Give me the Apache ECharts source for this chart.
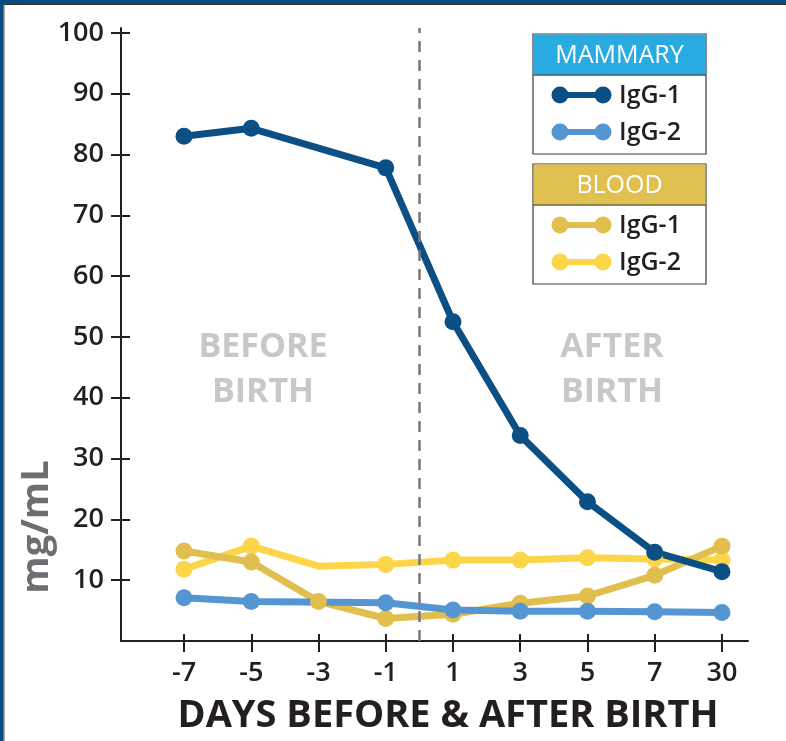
<!DOCTYPE html>
<html>
<head>
<meta charset="utf-8">
<script src="https://cdn.jsdelivr.net/npm/echarts@6/dist/echarts.min.js"></script>
<style>
  html, body { margin: 0; padding: 0; background: #fff; }
  #chart { width: 786px; height: 741px; }
</style>
</head>
<body>
<div id="chart"></div>
<script>
// x categories (days) and y tick labels
const days = ['-7', '-5', '-3', '-1', '1', '3', '5', '7', '30'];
const yTicks = [10, 20, 30, 40, 50, 60, 70, 80, 90, 100];

// values (mg/mL), null = no point drawn
const mammaryIgG1 = [83.0, 84.3, null, 77.8, 52.5, 33.8, 22.9, 14.6, 11.4];
const mammaryIgG2 = [7.1, 6.5, null, 6.3, 5.1, 4.9, 4.9, 4.8, 4.7];
const bloodIgG1 = [14.8, 13.0, 6.5, 3.7, 4.4, 6.2, 7.4, 10.8, 15.6];
const bloodIgG2 = [11.8, 15.6, 12.3, 12.6, 13.3, 13.3, 13.7, 13.5, 13.3];
// points of blood IgG-2 drawn as a bend without a dot
const bloodIgG2NoDot = [2];

const colors = {
  mammary1: '#0b4f85',
  mammary2: '#5496d1',
  blood1: '#e0bf4f',
  blood2: '#fdd549'
};

const font = '"Open Sans", sans-serif';
const dayIdx = days.map((d, i) => i);

function toPoints(arr, noDot) {
  const out = [];
  arr.forEach((v, i) => {
    if (v === null) return;
    if (noDot && noDot.indexOf(i) >= 0) {
      out.push({ value: [i, v], symbol: 'none' });
    } else {
      out.push([i, v]);
    }
  });
  return out;
}

function lineSeries(name, data, color, extra) {
  return Object.assign({
    name: name,
    type: 'line',
    data: data,
    symbol: 'circle',
    symbolSize: 17,
    showSymbol: true,
    lineStyle: { color: color, width: 7 },
    itemStyle: { color: color },
    emphasis: { disabled: true }
  }, extra || {});
}

// legend box
function legendBox(title, top, headColor, items) {
  const left = 533, w = 173, headH = 41, bodyH = 79;
  const els = [
    { type: 'rect', shape: { x: left, y: top, width: w, height: headH + bodyH },
      style: { fill: '#fff', stroke: '#3a3a3c', lineWidth: 1.2 } },
    { type: 'rect', shape: { x: left + 0.6, y: top + 0.6, width: w - 1.2, height: headH },
      style: { fill: headColor } },
    { type: 'line', shape: { x1: left, y1: top + headH, x2: left + w, y2: top + headH },
      style: { stroke: '#3a3a3c', lineWidth: 1 } },
    { type: 'text', x: left + w / 2, y: top + headH / 2 + 1,
      style: { text: title, fill: '#fff', font: '500 25px ' + font,
        align: 'center', verticalAlign: 'middle' } }
  ];
  items.forEach((it, k) => {
    const cy = top + headH + 20 + k * 37;
    els.push(
      { type: 'line', shape: { x1: 560, y1: cy, x2: 603, y2: cy },
        style: { stroke: it.color, lineWidth: 6 } },
      { type: 'circle', shape: { cx: 560, cy: cy, r: 8.5 }, style: { fill: it.color } },
      { type: 'circle', shape: { cx: 603, cy: cy, r: 8.5 }, style: { fill: it.color } },
      { type: 'text', x: 619, y: cy + 1,
        style: { text: it.label, fill: '#231f20', font: '600 25px ' + font,
          verticalAlign: 'middle' } }
    );
  });
  return els;
}

const chart = echarts.init(document.getElementById('chart'));

const axisLabelStyle = { color: '#231f20', fontFamily: font, fontWeight: 600, fontSize: 27 };
const axisDark = { color: '#231f20', width: 2 };

const option = {
  animation: false,
  backgroundColor: '#fff',
  grid: { left: 121, right: 38, top: 28, bottom: 100 },
  xAxis: [
    {
      type: 'value',
      position: 'bottom',
      min: -0.937,
      max: 8.387,
      splitLine: { show: false },
      axisLine: { show: true, onZero: false, lineStyle: axisDark },
      axisTick: { show: true, customValues: dayIdx, length: 11, lineStyle: axisDark },
      axisLabel: { customValues: dayIdx, margin: 19, formatter: v => days[v], ...axisLabelStyle }
    },
    {
      type: 'value',
      position: 'bottom',
      offset: 0,
      min: -0.937,
      max: 8.387,
      splitLine: { show: false },
      axisLine: { show: false, onZero: false },
      axisTick: { show: true, inside: true, customValues: dayIdx, length: 7, lineStyle: axisDark },
      axisLabel: { show: false }
    }
  ],
  yAxis: [
    {
      type: 'value',
      position: 'left',
      min: 0,
      max: 100.8,
      splitLine: { show: false },
      axisLine: { show: true, onZero: false, lineStyle: axisDark },
      axisTick: { show: true, customValues: yTicks, length: 10, lineStyle: axisDark },
      axisLabel: { customValues: yTicks, margin: 17, ...axisLabelStyle }
    },
    {
      type: 'value',
      position: 'left',
      offset: 0,
      min: 0,
      max: 100.8,
      splitLine: { show: false },
      axisLine: { show: false, onZero: false },
      axisTick: { show: true, inside: true, customValues: yTicks, length: 9, lineStyle: axisDark },
      axisLabel: { show: false }
    }
  ],
  series: [
    lineSeries('Blood IgG-2', toPoints(bloodIgG2, bloodIgG2NoDot), colors.blood2, {
      markLine: {
        silent: true,
        symbol: 'none',
        label: { show: false },
        lineStyle: { color: '#77787b', width: 2.5, type: [11, 8] },
        data: [{ xAxis: 3.5 }]
      }
    }),
    lineSeries('Blood IgG-1', toPoints(bloodIgG1), colors.blood1),
    lineSeries('Mammary IgG-2', toPoints(mammaryIgG2), colors.mammary2),
    lineSeries('Mammary IgG-1', toPoints(mammaryIgG1), colors.mammary1)
  ],
  graphic: [
    // frame
    { type: 'rect', shape: { x: 0, y: 0, width: 786, height: 4 }, style: { fill: '#0b4a80' } },
    { type: 'rect', shape: { x: 0, y: 4, width: 786, height: 1 }, style: { fill: '#333' } },
    { type: 'rect', shape: { x: 0, y: 0, width: 3.5, height: 741 }, style: { fill: '#0b4a80' } },
    { type: 'rect', shape: { x: 3.5, y: 4, width: 1, height: 737 }, style: { fill: '#555' } },
    // region captions
    { type: 'text', x: 263, y: 347, z: -1,
      style: { text: 'BEFORE', fill: '#c7c8ca', font: '700 34px ' + font, align: 'center', verticalAlign: 'middle' } },
    { type: 'text', x: 263, y: 392, z: -1,
      style: { text: 'BIRTH', fill: '#c7c8ca', font: '700 34px ' + font, align: 'center', verticalAlign: 'middle' } },
    { type: 'text', x: 612, y: 347, z: -1,
      style: { text: 'AFTER', fill: '#c7c8ca', font: '700 34px ' + font, align: 'center', verticalAlign: 'middle' } },
    { type: 'text', x: 612, y: 392, z: -1,
      style: { text: 'BIRTH', fill: '#c7c8ca', font: '700 34px ' + font, align: 'center', verticalAlign: 'middle' } },
    // axis titles
    { type: 'text', x: 448, y: 716,
      style: { text: 'DAYS BEFORE & AFTER BIRTH', fill: '#231f20', font: '700 38px ' + font,
        align: 'center', verticalAlign: 'middle' } },
    { type: 'text', x: 37, y: 527, rotation: Math.PI / 2,
      style: { text: 'mg/mL', fill: '#6d6e71', font: '700 38px ' + font,
        align: 'center', verticalAlign: 'middle' } },
    // legends
    ...legendBox('MAMMARY', 34, '#29abe2', [
      { label: 'IgG-1', color: colors.mammary1 },
      { label: 'IgG-2', color: colors.mammary2 }
    ]),
    ...legendBox('BLOOD', 164, '#e0c050', [
      { label: 'IgG-1', color: colors.blood1 },
      { label: 'IgG-2', color: colors.blood2 }
    ])
  ]
};

chart.setOption(option);
</script>
</body>
</html>
